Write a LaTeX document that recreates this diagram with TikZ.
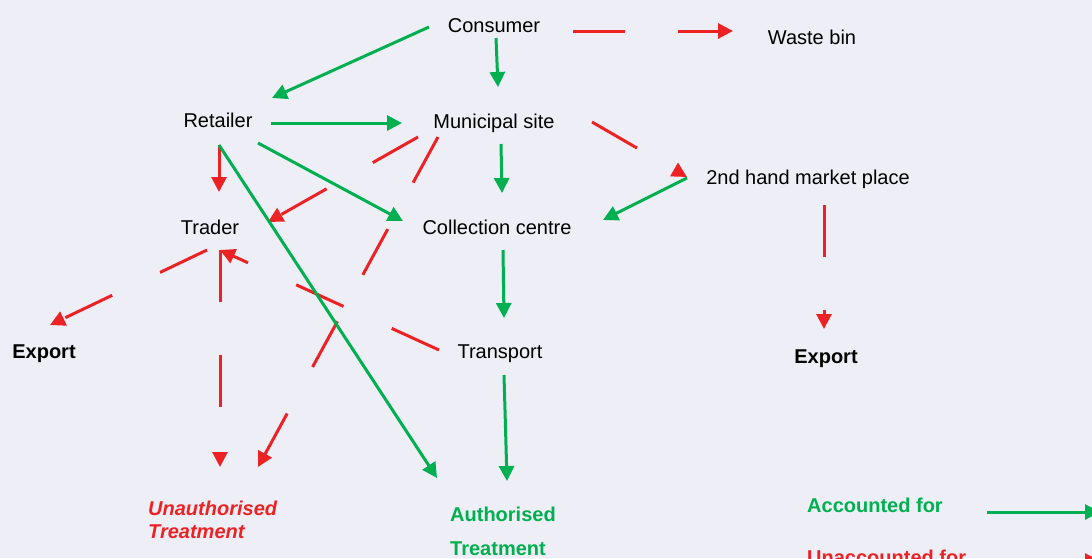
\documentclass[tikz,border=0pt]{standalone}
\usepackage{fontspec}
\setmainfont{Liberation Sans}
\usetikzlibrary{arrows.meta}
\definecolor{bg}{HTML}{EEEEF7}
\definecolor{okgreen}{HTML}{00B050}
\definecolor{lossred}{HTML}{ED2224}
\begin{document}
\begin{tikzpicture}[x=1pt,y=-1pt,
  lbl/.style={inner sep=0pt, anchor=base, font=\fontsize{20}{24}\selectfont},
  boldlbl/.style={lbl, font=\fontsize{20}{24}\selectfont\bfseries},
  flow/.style={line width=3pt, -{Triangle[length=15pt,width=15pt]}},
  acc/.style={flow, color=okgreen},
  lost/.style={flow, color=lossred},
  lostdash/.style={lost, dash pattern=on 52pt off 53pt},
]
\useasboundingbox (0,0) rectangle (1092,558);
\clip (0,0) rectangle (1092,558);
\fill[bg] (0,0) rectangle (1092,558);

% stations of the flow
\node[lbl] (cons)      at (494,32)  {Consumer};
\node[lbl] (waste)     at (812,44)  {Waste bin};
\node[lbl] (ret)       at (218,127) {Retailer};
\node[lbl] (mun)       at (494,128) {Municipal site};
\node[lbl] (second)    at (808,184) {2nd hand market place};
\node[lbl] (trader)    at (210,234) {Trader};
\node[lbl] (coll)      at (497,234) {Collection centre};
\node[boldlbl] (exportL) at (44,358) {Export};
\node[lbl] (transport) at (500,358) {Transport};
\node[boldlbl] (exportR) at (826,363) {Export};
\node[lbl, anchor=base west, text=lossred,
      font=\fontsize{20}{23}\selectfont\bfseries\itshape] (unauth) at (148,515)
      {\begin{tabular}[t]{@{}l@{}}Unauthorised\\Treatment\end{tabular}};
\node[lbl, anchor=base west, text=okgreen,
      font=\fontsize{20}{34}\selectfont\bfseries] (auth) at (450,521)
      {\begin{tabular}[t]{@{}l@{}}Authorised\\Treatment\end{tabular}};

% legend
\node[boldlbl, anchor=base west, text=okgreen] (legacc) at (807,512) {Accounted for};
\node[boldlbl, anchor=base west, text=lossred] (leglost) at (807,564) {Unaccounted for};
\coordinate (legacc-end) at (1100,512);
\coordinate (leglost-end) at (1100,561);

% unaccounted flows (red)
\draw[lostdash] ([shift={(79,-1)}]cons.base) -- ([shift={(-79,-13)}]waste.base);
\draw[lost] ([shift={(1,18)}]ret.base) -- ([shift={(9,-42)}]trader.base);
\draw[lostdash] ([shift={(-76,9)}]mun.base) -- ([shift={(58,-12)}]trader.base);
\draw[lostdash] ([shift={(-56,9)}]mun.base) -- ([shift={(110,-48)}]unauth.base west);
\draw[lostdash] ([shift={(98,-6)}]mun.base) -- ([shift={(-121,-7)}]second.base);
\draw[lostdash] ([shift={(16,21)}]second.base) -- ([shift={(-2,-34)}]exportR.base);
\draw[lostdash] ([shift={(-61,-8)}]transport.base) -- ([shift={(10,16)}]trader.base);
\draw[lostdash] ([shift={(-3,16)}]trader.base) -- ([shift={(6,-33)}]exportL.base);
\draw[lostdash] ([shift={(10,16)}]trader.base) -- ([shift={(72,-48)}]unauth.base west);
\draw[lost] ([shift={(180,-3)}]leglost.base west) -- (leglost-end);

% accounted flows (green)
\draw[acc] ([shift={(-65,-5)}]cons.base) -- ([shift={(54,-29)}]ret.base);
\draw[acc] ([shift={(2,6)}]cons.base) -- ([shift={(4,-41)}]mun.base);
\draw[acc] ([shift={(53,-4)}]ret.base) -- ([shift={(-92,-5)}]mun.base);
\draw[acc] ([shift={(40,16)}]ret.base) -- ([shift={(-94,-13)}]coll.base);
\draw[acc] ([shift={(1,18)}]ret.base) -- ([shift={(-13,-43)}]auth.base west);
\draw[acc] ([shift={(7,16)}]mun.base) -- ([shift={(5,-41)}]coll.base);
\draw[acc] ([shift={(-121,-6)}]second.base) -- ([shift={(106,-14)}]coll.base);
\draw[acc] ([shift={(6,16)}]coll.base) -- ([shift={(4,-40)}]transport.base);
\draw[acc] ([shift={(4,17)}]transport.base) -- ([shift={(57,-40)}]auth.base west);
\draw[acc] ([shift={(180,0)}]legacc.base west) -- (legacc-end);
\end{tikzpicture}
\end{document}
